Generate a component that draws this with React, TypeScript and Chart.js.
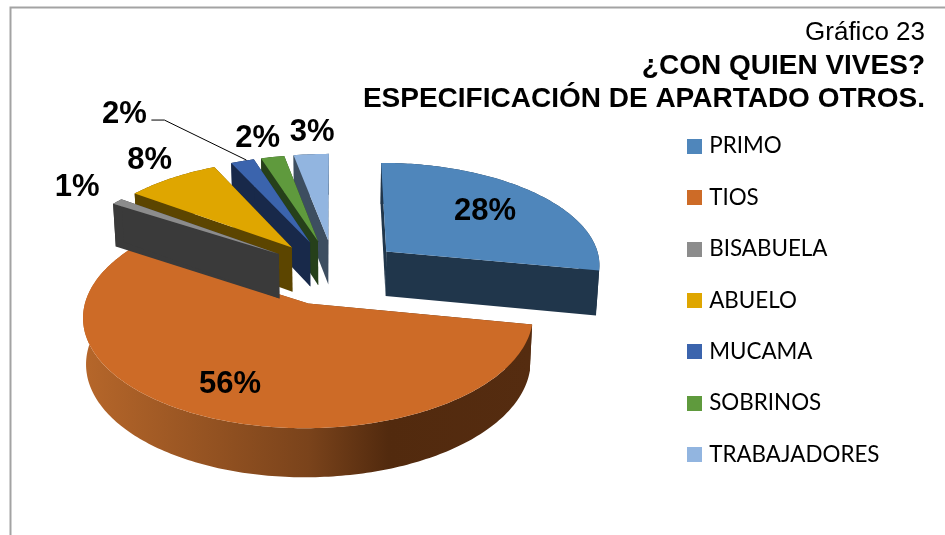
import React, { useEffect, useRef } from "react";
import { Chart, registerables } from "chart.js";

Chart.register(...registerables);

const categories = ["PRIMO", "TIOS", "BISABUELA", "ABUELO", "MUCAMA", "SOBRINOS", "TRABAJADORES"];
const percentages = [28, 56, 1, 8, 2, 2, 3];
const topColors = ["#4f86bb", "#cd6b27", "#8c8c8c", "#dfa600", "#3b64ad", "#5f9a3d", "#92b5e0"];
const wallColors = ["#20364b", "#552c10", "#3a3a3a", "#5c4500", "#18294a", "#26401a", "#3d4e60"];
const tiosWallStops: [number, string][] = [
  [0, "#b5662a"],
  [0.5, "#7a431b"],
  [0.68, "#522a0e"],
  [1, "#552c10"],
];
const labelNudges: [number, number][] = [
  [-50, 19],
  [17, -34],
  [-40, -14],
  [-22, -18],
  [-118, -47],
  [-15, -19],
  [1, -22],
];
const drawOrder = [1, 6, 5, 4, 3, 2, 0];

const view = { cx: 334.5, cy: 272, sx: 216, sy: 103, persp: -0.1124, depth: 45, depthGrow: 0.07, shrink: 0.988 };
const LABEL_FONT = 'bold 31px "Liberation Sans", Arial, sans-serif';

type P = [number, number];
const top = (X: number, Y: number): P => {
  const w = 1 + view.persp * Y;
  return [view.cx + (view.sx * X) / w, view.cy + (view.sy * Y) / w];
};
const bottom = (X: number, Y: number): P => {
  const [x, y] = top(X, Y);
  return [view.cx + (x - view.cx) * view.shrink, y + view.depth * (1 + view.depthGrow * Y)];
};
const fillPoly = (ctx: CanvasRenderingContext2D, pts: P[], fill: string | CanvasGradient) => {
  ctx.beginPath();
  pts.forEach((p, i) => (i ? ctx.lineTo(p[0], p[1]) : ctx.moveTo(p[0], p[1])));
  ctx.closePath();
  ctx.fillStyle = fill;
  ctx.fill();
};
const swatch = (color: string) => {
  const c = document.createElement("canvas");
  c.width = 15;
  c.height = 15;
  const g = c.getContext("2d") as CanvasRenderingContext2D;
  g.fillStyle = color;
  g.fillRect(0, 0, 15, 15);
  return c;
};

const pie3d = {
  id: "pie3d",
  afterLayout(chart: any) {
    const legend = chart.legend;
    const w = legend.width;
    const h = legend.height;
    legend.left = 662;
    legend.right = 662 + w;
    legend.top = 106;
    legend.bottom = 106 + h;
  },
  beforeDraw(chart: any) {
    const ctx = chart.ctx;
    ctx.save();
    ctx.strokeStyle = "#a3a3a3";
    ctx.lineWidth = 2;
    ctx.beginPath();
    ctx.moveTo(10.5, 535);
    ctx.lineTo(10.5, 7.5);
    ctx.lineTo(945, 7.5);
    ctx.stroke();
    ctx.restore();
  },
  beforeDatasetsDraw(chart: any) {
    const ctx: CanvasRenderingContext2D = chart.ctx;
    const arcs = chart.getDatasetMeta(0).data;
    const outerMids: P[] = [];
    ctx.save();
    arcs.forEach((arc: any, i: number) => {
      const mid = (arc.startAngle + arc.endAngle) / 2;
      const d = arc.options.offset / arc.outerRadius;
      const ax = Math.cos(mid) * d;
      const ay = Math.sin(mid) * d;
      outerMids[i] = top(ax + Math.cos(mid), ay + Math.sin(mid));
    });
    drawOrder.forEach((i) => {
      const arc = arcs[i];
      const mid = (arc.startAngle + arc.endAngle) / 2;
      const d = arc.options.offset / arc.outerRadius;
      const ax = Math.cos(mid) * d;
      const ay = Math.sin(mid) * d;
      const n = Math.max(2, Math.ceil(((arc.endAngle - arc.startAngle) * 180) / Math.PI));
      const rim: P[] = [];
      for (let k = 0; k <= n; k++) {
        const t = arc.startAngle + ((arc.endAngle - arc.startAngle) * k) / n;
        rim.push([ax + Math.cos(t), ay + Math.sin(t)]);
      }
      let wall: string | CanvasGradient = wallColors[i];
      if (i === 1) {
        const g = ctx.createLinearGradient(87, 0, 530, 0);
        tiosWallStops.forEach(([s, c]) => g.addColorStop(s, c));
        wall = g;
      }
      const topRim = rim.map(([X, Y]) => top(X, Y));
      const botRim = rim.map(([X, Y]) => bottom(X, Y));
      fillPoly(ctx, [...topRim, ...botRim.slice().reverse()], wall);
      const aT = top(ax, ay);
      const aB = bottom(ax, ay);
      fillPoly(ctx, [aT, topRim[0], botRim[0], aB], wall);
      fillPoly(ctx, [aT, topRim[n], botRim[n], aB], wall);
      fillPoly(ctx, [aT, ...topRim], arc.options.backgroundColor);
    });
    ctx.font = LABEL_FONT;
    ctx.textAlign = "center";
    ctx.textBaseline = "middle";
    percentages.forEach((v, i) => {
      const [ox, oy] = outerMids[i];
      const lx = ox + labelNudges[i][0];
      const ly = oy + labelNudges[i][1];
      ctx.fillStyle = "#000";
      ctx.fillText(v + "%", lx, ly);
      if (i === 4) {
        ctx.strokeStyle = "#000";
        ctx.lineWidth = 1;
        ctx.beginPath();
        ctx.moveTo(lx + 27, ly + 6);
        ctx.lineTo(lx + 40, ly + 6);
        ctx.lineTo(ox + 4, oy - 1);
        ctx.stroke();
      }
    });
    ctx.restore();
    return false;
  },
};

export default function App() {
  const ref = useRef<HTMLCanvasElement>(null);
  useEffect(() => {
    const chart = new Chart(ref.current as HTMLCanvasElement, {
      type: "pie",
      data: {
        labels: categories,
        datasets: [
          {
            data: percentages,
            backgroundColor: topColors,
            borderWidth: 0,
            offset: 69,
          },
        ],
      },
      options: {
        responsive: false,
        animation: false,
        radius: 217,
        layout: { padding: { right: 20 } },
        plugins: {
          tooltip: { enabled: false },
          title: {
            display: true,
            text: "Gráfico 23",
            align: "end",
            color: "#000",
            font: { family: '"Liberation Sans", Arial, sans-serif', size: 26, weight: "normal", lineHeight: 1.2 },
            padding: { top: 17, bottom: 0 },
          },
          subtitle: {
            display: true,
            text: ["¿CON QUIEN VIVES?", "ESPECIFICACIÓN DE APARTADO OTROS."],
            align: "end",
            color: "#000",
            font: { family: '"Liberation Sans", Arial, sans-serif', size: 28, weight: "bold", lineHeight: 1.18 },
            padding: { top: 2, bottom: 0 },
          },
          legend: {
            position: "right",
            align: "start",
            labels: {
              usePointStyle: true,
              pointStyleWidth: 7,
              boxHeight: 15,
              padding: 29,
              color: "#111",
              font: { family: "Lato, sans-serif", size: 22.4 },
              generateLabels: () =>
                categories.map((text, index) => ({
                  text,
                  index,
                  hidden: false,
                  lineWidth: 0,
                  fillStyle: topColors[index],
                  strokeStyle: topColors[index],
                  pointStyle: swatch(topColors[index]),
                })),
            },
          },
        },
      } as any,
      plugins: [pie3d as any],
    });
    return () => chart.destroy();
  }, []);
  return (
    <canvas
      ref={ref}
      width={945}
      height={535}
      style={{ position: "absolute", left: 0, top: 0, display: "block", background: "#fff" }}
    />
  );
}
